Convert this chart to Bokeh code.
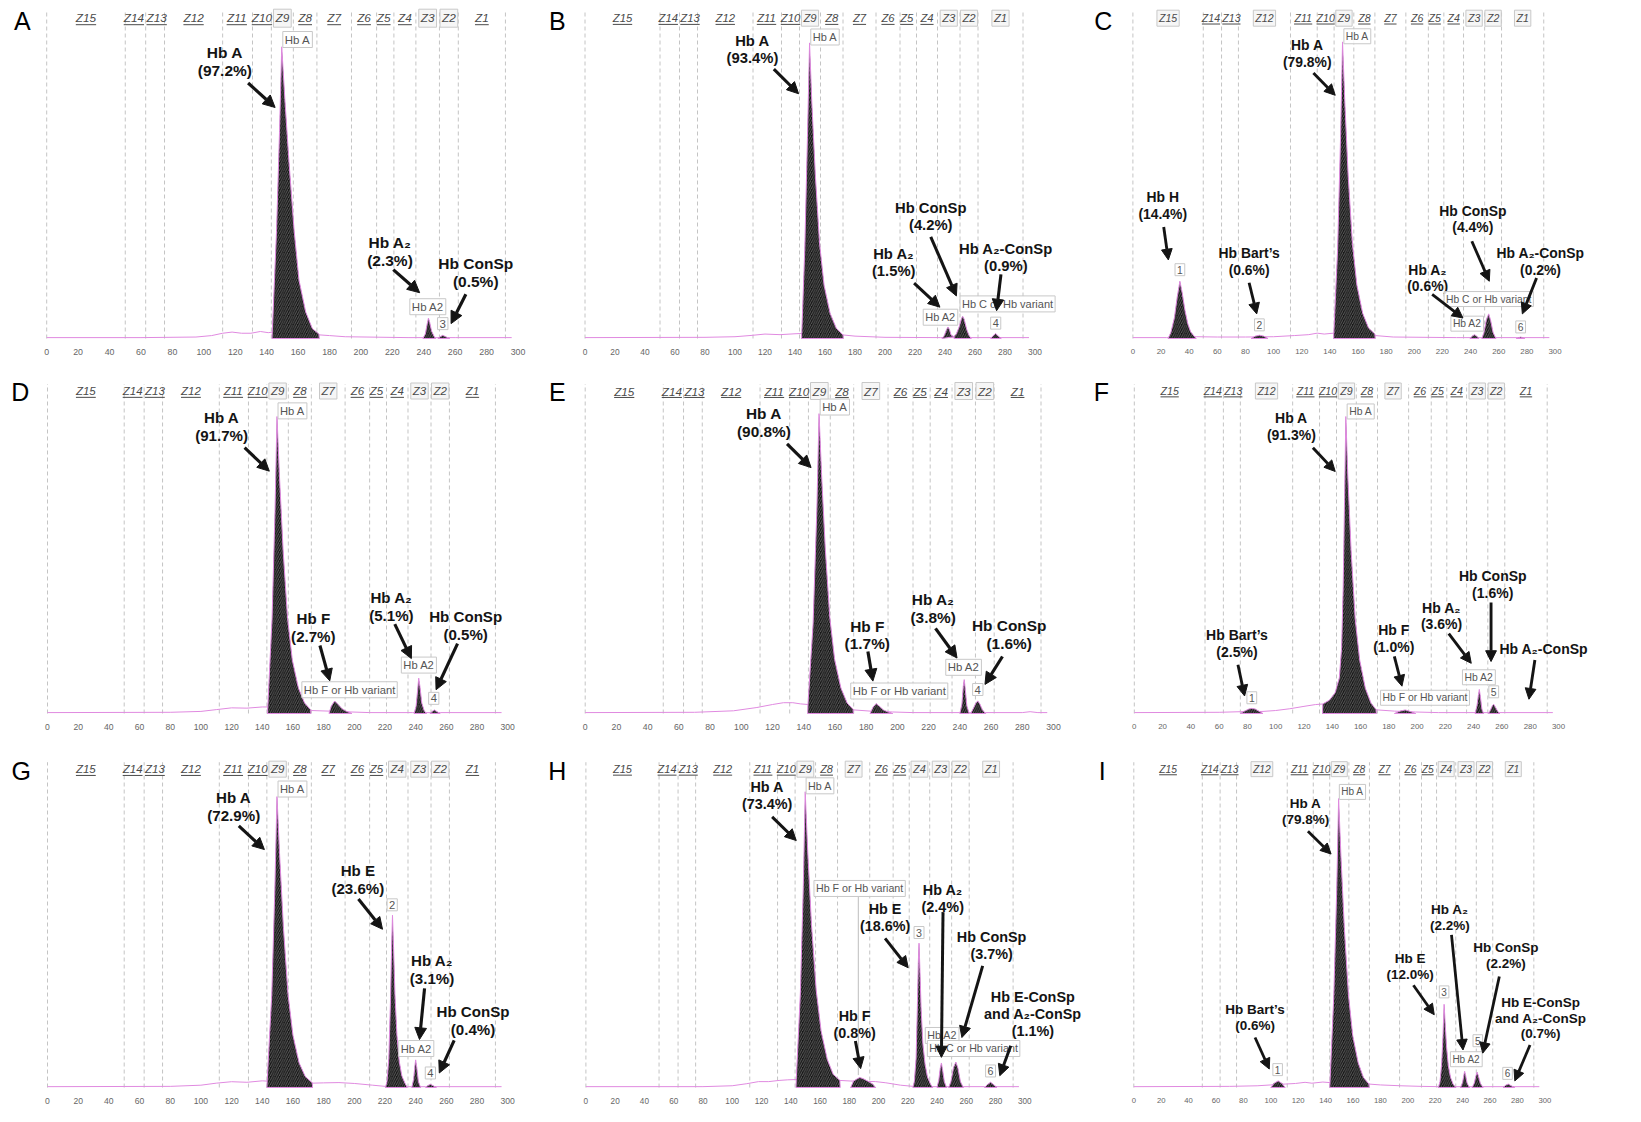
from bokeh.plotting import figure
from bokeh.models import Range1d, Label, Arrow, NormalHead, FixedTicker, ColumnDataSource
from bokeh.layouts import gridplot
from bokeh.embed import file_html
from bokeh.resources import INLINE
from bokeh.core.properties import value

FONT = "Liberation Sans"

# ---------------- shared axis / zone data ----------------
TICKS = list(range(0, 301, 20))
ZONE_NAMES = ["Z15", "Z14", "Z13", "Z12", "Z11", "Z10", "Z9", "Z8", "Z7", "Z6", "Z5", "Z4", "Z3", "Z2", "Z1"]
ZONE_CENTERS = [25, 55.5, 70, 93.5, 121, 137, 150, 164.5, 183, 202, 214.5, 228, 242.5, 256, 277]
ZONE_EDGES = [0, 50, 63, 75, 112, 131, 143, 157, 172, 194, 210, 221, 235, 250, 262, 292]

# ---------------- panel A ----------------
A_TRACE_X = [0, 60, 95, 105, 112, 118, 124, 130, 136, 141, 144, 172, 180, 190, 230, 240, 260, 296]
A_TRACE_Y = [0.3, 0.3, 0.5, 1.0, 1.8, 2.2, 1.8, 1.8, 2.4, 2.0, 2.2, 1.3, 1.0, 0.6, 0.3, 0.3, 0.3, 0.3]
A_PEAKS_X = [[143.4, 143.6, 146.3, 148.2, 149.6, 151.6, 154.3, 157.5, 160.6, 164.9, 169.1, 173.3, 173.5],
             [239.5, 241, 242.2, 243, 243.8, 245, 246.5, 247.5],
             [249, 250.5, 252.1, 254, 256.5]]
A_PEAKS_Y = [[0, 2.2, 37, 71, 100, 82, 60, 37, 20, 9, 3.4, 1.5, 0],
             [0, 1.5, 5, 7, 5.5, 2.5, 0.8, 0],
             [0, 0.6, 1.1, 0.6, 0]]
A_BOXED = ["Z9", "Z3", "Z2"]
A_NOTES = ["Hb A\n(97.2%)", "Hb A₂\n(2.3%)", "Hb ConSp\n(0.5%)"]
A_TAGS = ["Hb A", "Hb A2", "3"]

# ---------------- panel B ----------------
B_TRACE_X = [0, 80, 100, 110, 120, 130, 140, 144.5, 172, 180, 200, 237, 258, 270, 280, 296]
B_TRACE_Y = [0.3, 0.4, 0.6, 1.0, 1.5, 1.3, 1.6, 1.7, 1.2, 0.8, 0.4, 0.3, 0.3, 0.3, 0.3, 0.3]
B_PEAKS_X = [[144.3, 144.5, 146.5, 148.3, 149.7, 151.2, 153.6, 156.4, 159.4, 163.4, 167.5, 172.0, 172.2],
             [238, 239.5, 241, 242, 243, 244, 246],
             [246, 246.2, 247.5, 249.5, 251, 251.8, 252.8, 254.5, 256, 257.5],
             [270.5, 272, 273.8, 275.5, 277.5]]
B_PEAKS_Y = [[0, 1.7, 30, 68, 100, 80, 55, 32, 18, 8.5, 3.5, 1.2, 0],
             [0, 1, 3, 3.9, 3, 1.2, 0.6],
             [0, 0.8, 1.5, 4, 6.8, 7.5, 6.5, 3, 1, 0],
             [0, 0.9, 1.7, 0.8, 0]]
B_BOXED = ["Z9", "Z3", "Z2", "Z1"]
B_NOTES = ["Hb A\n(93.4%)", "Hb ConSp\n(4.2%)", "Hb A₂\n(1.5%)", "Hb A₂-ConSp\n(0.9%)"]
B_TAGS = ["Hb A", "Hb A2", "Hb C or Hb variant", "4"]

# ---------------- panel C ----------------
C_TRACE_X = [0, 24, 45, 60, 80, 100, 115, 125, 131, 136, 142.6, 172, 185, 230, 296]
C_TRACE_Y = [0.3, 0.3, 0.6, 0.5, 0.5, 0.6, 1.0, 1.3, 1.8, 1.5, 1.8, 1.0, 0.5, 0.3, 0.3]
C_PEAKS_X = [[25, 27, 29.5, 31.5, 33.4, 35, 37, 39, 41, 43.5, 45],
             [84, 87, 89.9, 93, 96],
             [142.6, 142.8, 145.5, 147.6, 149.0, 150.6, 153.0, 156.0, 159.2, 163.3, 167.5, 172.0, 172.2],
             [239.5, 241.5, 242.8, 244.3, 246],
             [248, 249.5, 251.3, 252.9, 254.3, 256, 258],
             [272.5, 275.6, 278.5]]
C_PEAKS_Y = [[0, 2, 7, 14, 19.3, 15.5, 9.5, 5, 2.3, 0.8, 0],
             [0, 0.8, 1.1, 0.8, 0],
             [0, 1.8, 30, 68, 100, 80, 55, 32, 18, 8.5, 3.5, 1.5, 0],
             [0, 0.9, 1.3, 0.8, 0],
             [0, 2, 6.5, 8.3, 6, 2, 0],
             [0, 0.5, 0]]
C_BOXED = ["Z15", "Z12", "Z9", "Z3", "Z2", "Z1"]
C_NOTES = ["Hb H\n(14.4%)", "Hb Bart’s\n(0.6%)", "Hb A\n(79.8%)", "Hb ConSp\n(4.4%)",
           "Hb A₂\n(0.6%)", "Hb A₂-ConSp\n(0.2%)"]
C_TAGS = ["1", "2", "Hb A", "Hb A2", "Hb C or Hb variant", "6"]

# ---------------- panel D ----------------
D_TRACE_X = [0, 80, 100, 110, 120, 130, 140, 143.6, 172, 183.5, 198.5, 210, 238, 256, 296]
D_TRACE_Y = [0.3, 0.4, 0.7, 1.3, 1.9, 1.8, 2.2, 2.2, 1.0, 0.8, 0.5, 0.3, 0.3, 0.3, 0.3]
D_PEAKS_X = [[143.4, 143.6, 146.4, 148.3, 149.6, 151.2, 153.6, 156.5, 159.6, 163.6, 167.6, 171.5, 171.7],
             [183.5, 185, 187.2, 189.5, 192, 195, 198.5],
             [239, 240.3, 241.3, 242, 242.8, 244, 245.5, 247],
             [249.5, 251, 252.2, 254, 256]]
D_PEAKS_Y = [[0, 2.2, 32, 68, 100, 80, 55, 32, 18, 8.5, 3.5, 1.3, 0],
             [0, 2.5, 4.2, 3, 1.6, 0.7, 0],
             [0, 2.5, 8, 11.9, 9, 3.5, 1, 0],
             [0, 0.8, 1.2, 0.6, 0]]
D_BOXED = ["Z9", "Z7", "Z3", "Z2"]
D_NOTES = ["Hb A\n(91.7%)", "Hb F\n(2.7%)", "Hb A₂\n(5.1%)", "Hb ConSp\n(0.5%)"]
D_TAGS = ["Hb A", "Hb F or Hb variant", "Hb A2", "4"]

# ---------------- panel E ----------------
E_TRACE_X = [0, 70, 95, 110, 120, 127, 133, 138, 142.7, 172, 182.5, 197, 210, 240, 256.5, 280, 285, 290, 296]
E_TRACE_Y = [0.3, 0.4, 0.9, 2.0, 3.0, 3.6, 3.6, 3.2, 3.0, 1.2, 0.8, 0.5, 0.3, 0.3, 0.3, 0.3, 0.6, 0.3, 0.3]
E_PEAKS_X = [[142.5, 142.7, 146.0, 148.4, 149.8, 151.4, 153.8, 156.7, 159.8, 163.8, 167.8, 171.6, 171.8],
             [182.5, 184.5, 186.4, 188.5, 191, 194, 197],
             [240, 241.3, 242.2, 242.8, 243.5, 244.5, 246],
             [247, 248.5, 250.3, 251.5, 252.8, 254.5, 256.5]]
E_PEAKS_Y = [[0, 3.0, 30, 68, 100, 80, 55, 32, 18, 8.5, 3.5, 1.4, 0],
             [0, 2.2, 3.3, 2.4, 1.2, 0.5, 0],
             [0, 3, 9, 11.3, 8, 2.5, 0],
             [0, 1.5, 3.5, 4.2, 3.2, 1.2, 0]]
E_BOXED = ["Z9", "Z7", "Z3", "Z2"]
E_NOTES = ["Hb A\n(90.8%)", "Hb F\n(1.7%)", "Hb A₂\n(3.8%)", "Hb ConSp\n(1.6%)"]
E_TAGS = ["Hb A", "Hb F or Hb variant", "Hb A2", "4"]

# ---------------- panel F ----------------
F_TRACE_X = [0, 60, 75, 91, 100, 110, 120, 128, 133.3, 172, 184, 199, 215, 241, 258.5, 296]
F_TRACE_Y = [0.3, 0.4, 0.6, 0.7, 1.0, 1.6, 2.4, 3.0, 3.2, 1.2, 0.8, 0.5, 0.3, 0.3, 0.3, 0.3]
F_PEAKS_X = [[75, 78, 81, 83, 85.5, 88, 91],
             [133.1, 133.3, 138, 142, 145, 146.6, 147.7, 148.7, 149.6, 151.0, 153.3, 156.2, 159.4, 163.4, 167.4, 171.0, 171.2],
             [184, 188, 191.6, 195, 199],
             [241, 242.3, 243.3, 244, 244.8, 245.8, 247],
             [250.5, 252, 253.3, 254.2, 255.3, 257, 258.5]]
F_PEAKS_Y = [[0, 0.8, 1.5, 1.7, 1.5, 0.8, 0],
             [0, 3.2, 4.5, 7, 12, 22, 42, 72, 100, 80, 55, 32, 18, 8.5, 3.5, 1.3, 0],
             [0, 0.8, 1.2, 0.7, 0],
             [0, 2.5, 6, 8.1, 5.5, 1.5, 0],
             [0, 1.3, 2.7, 3.1, 2.2, 0.7, 0]]
F_BOXED = ["Z12", "Z9", "Z7", "Z3", "Z2"]
F_NOTES = ["Hb A\n(91.3%)", "Hb Bart’s\n(2.5%)", "Hb F\n(1.0%)", "Hb A₂\n(3.6%)",
           "Hb ConSp\n(1.6%)", "Hb A₂-ConSp"]
F_TAGS = ["1", "Hb A", "Hb F or Hb variant", "Hb A2", "5"]

# ---------------- panel G ----------------
G_TRACE_X = [0, 80, 100, 110, 120, 130, 140, 143.2, 172.6, 180, 190, 200, 212, 220, 234.5, 237.5, 243.2, 246.5, 296]
G_TRACE_Y = [0.3, 0.4, 0.8, 1.5, 2.0, 1.8, 2.3, 2.2, 1.5, 1.6, 1.7, 1.4, 0.8, 0.4, 0.3, 0.3, 0.3, 0.3, 0.3]
G_PEAKS_X = [[143.0, 143.2, 146.2, 148.2, 149.6, 151.3, 153.8, 156.8, 160.0, 164.0, 168.0, 172.6, 172.8],
             [220.3, 221.3, 222.5, 223.6, 224.4, 224.9, 225.6, 226.5, 227.8, 229.3, 231, 233, 234.5],
             [237.5, 238.7, 239.5, 240, 240.7, 241.8, 243.2],
             [246.5, 248, 249.6, 251.5, 253.5]]
G_PEAKS_Y = [[0, 2.2, 32, 68, 100, 80, 55, 32, 18, 8.5, 3.8, 1.6, 0],
             [0, 2, 10, 30, 50, 59.2, 48, 32, 18, 9, 4, 1.5, 0],
             [0, 3, 7.5, 9.5, 7, 2, 0],
             [0, 0.7, 1.1, 0.6, 0]]
G_BOXED = ["Z9", "Z4", "Z3", "Z2"]
G_NOTES = ["Hb A\n(72.9%)", "Hb E\n(23.6%)", "Hb A₂\n(3.1%)", "Hb ConSp\n(0.4%)"]
G_TAGS = ["Hb A", "2", "Hb A2", "4"]

# ---------------- panel H ----------------
H_TRACE_X = [0, 80, 100, 110, 118, 125, 132, 138, 143.8, 173.6, 181, 198, 205, 215, 223.5, 237, 240, 258, 272.5, 281, 296]
H_TRACE_Y = [0.3, 0.3, 0.6, 1.3, 2.0, 2.0, 2.4, 2.6, 2.7, 2.4, 2.2, 2.0, 1.6, 0.8, 0.4, 0.3, 0.3, 0.3, 0.3, 0.3, 0.3]
H_PEAKS_X = [[143.6, 143.8, 146.6, 148.6, 149.9, 151.6, 154.2, 157.4, 160.8, 165.0, 169.0, 173.6, 173.8],
             [181, 183, 185, 187.1, 189.5, 192.5, 196, 198],
             [223.5, 224.5, 225.7, 226.6, 227.2, 227.7, 228.3, 229.1, 230.3, 231.8, 233.5, 235.5, 237],
             [240, 241.2, 242.2, 243, 243.8, 245, 246.5],
             [248, 249.5, 251.3, 252.9, 254.3, 256, 258],
             [272.5, 274.5, 276.6, 278.8, 281]]
H_PEAKS_Y = [[0, 2.7, 32, 68, 100, 80, 55, 33, 19, 9.5, 4.5, 2.4, 0],
             [0, 2.2, 2.8, 3.4, 3.0, 2.2, 1.2, 0],
             [0, 2, 10, 28, 42, 48.8, 40, 27, 15, 8, 3.5, 1.2, 0],
             [0, 2.5, 6.5, 8.3, 6, 2, 0],
             [0, 2, 6.8, 8.6, 6.5, 2, 0],
             [0, 1, 1.8, 0.9, 0]]
H_BOXED = ["Z9", "Z7", "Z4", "Z3", "Z2", "Z1"]
H_NOTES = ["Hb A\n(73.4%)", "Hb F\n(0.8%)", "Hb E\n(18.6%)", "Hb A₂\n(2.4%)",
           "Hb ConSp\n(3.7%)", "Hb E-ConSp\nand A₂-ConSp\n(1.1%)"]
H_TAGS = ["Hb A", "Hb F or Hb variant", "3", "Hb A2", "Hb C or Hb variant", "6"]

# ---------------- panel I ----------------
I_TRACE_X = [0, 70, 90, 100, 110.5, 118, 125, 130, 138, 143.2, 171.6, 180, 195, 210, 222.3, 235, 296]
I_TRACE_Y = [0.3, 0.4, 0.6, 0.9, 1.2, 1.4, 1.8, 1.5, 1.9, 1.7, 1.2, 0.9, 0.6, 0.4, 0.3, 0.3, 0.3]
I_PEAKS_X = [[100, 102.5, 105.4, 108, 110.5],
             [143.0, 143.2, 146.0, 148.1, 149.5, 151.2, 153.7, 156.7, 159.8, 163.8, 167.6, 171.6, 171.8],
             [222.3, 223.5, 224.7, 225.7, 226.5, 227.3, 228.3, 229.6, 231.2, 233, 235],
             [238.5, 240, 241, 241.5, 242.2, 243.3, 245],
             [247, 248.5, 249.8, 250.6, 251.5, 253, 255],
             [269.5, 271.5, 273.3, 275.5, 278]]
I_PEAKS_Y = [[0, 1.5, 2.3, 1.5, 0],
             [0, 1.7, 32, 68, 100, 80, 55, 32, 18, 8.5, 3.5, 1.2, 0],
             [0, 2, 8, 18, 28.8, 22, 14, 7.5, 3.5, 1.2, 0],
             [0, 1.8, 4.5, 5.6, 4.2, 1.5, 0],
             [0, 1.5, 4.2, 5.3, 4, 1.4, 0],
             [0, 0.8, 1.2, 0.6, 0]]
I_BOXED = ["Z12", "Z9", "Z4", "Z3", "Z2", "Z1"]
I_NOTES = ["Hb A\n(79.8%)", "Hb Bart’s\n(0.6%)", "Hb E\n(12.0%)", "Hb A₂\n(2.2%)",
           "Hb ConSp\n(2.2%)", "Hb E-ConSp\nand A₂-ConSp\n(0.7%)"]
I_TAGS = ["1", "Hb A", "3", "Hb A2", "5", "6"]

# ---------------- layout (positions, not data) ----------------
# note placement: (text x, text y, arrow x0, y0, x1, y1)
A_NOTE_POS = [(113.4, 95, 128.2, 87.6, 145.4, 79.2), (218.5, 29.8, 220.6, 23.6, 237.4, 15.7),
              (273.1, 22.5, 266.8, 15.2, 257.4, 5.1)]
A_TAG_POS = [(159.7, 102.5), (242.6, 10.9), (252.1, 5.1)]
B_NOTE_POS = [(111.6, 97.8, 125.9, 91.1, 142.4, 82.8), (230.5, 41.4, 230.5, 34.4, 247.6, 14.4),
              (205.8, 25.6, 219.4, 18.7, 236.6, 10.6), (280.6, 27.3, 277.3, 21.7, 274.4, 9.4)]
B_TAG_POS = [(160.0, 102), (237, 7.2), (281.7, 11.7), (273.8, 5.2)]
C_NOTE_POS = [(21.2, 44.8, 21.9, 37.6, 25.2, 26.5), (82.6, 26, 82.6, 18.8, 88, 8.3),
              (123.9, 96.1, 128.3, 89.5, 143.8, 82), (241.6, 40.3, 240.9, 32.8, 253.3, 19.3),
              (209.5, 20.4, 212.7, 14.9, 234.6, 6.9), (289.7, 26, 286.9, 20.4, 276.8, 8.3)]
C_TAG_POS = [(33.4, 23.2), (89.9, 4.6), (159.5, 101.9), (237.6, 5.0), (252.9, 13.3), (275.6, 3.9)]
D_NOTE_POS = [(113.5, 96.7, 128.5, 89.5, 144.6, 81.6), (173.3, 28.9, 177.6, 22.9, 184, 11),
              (224.2, 36.1, 226.4, 30.1, 237.2, 18.5), (272.6, 29.6, 267.3, 23.5, 253.3, 8)]
D_TAG_POS = [(159.7, 101.9), (196.9, 8), (242.1, 16.3), (251.8, 5.1)]
E_NOTE_POS = [(114.5, 97, 129.3, 89.9, 144.7, 82), (180.7, 26.2, 181.1, 20.7, 184.3, 10.8),
              (222.9, 34.9, 224.4, 28.4, 238.2, 18.5), (271.6, 26.3, 267.3, 19, 256.1, 9.7)]
E_TAG_POS = [(159.9, 102.2), (201.2, 7.5), (242.4, 15.4), (251.5, 8.0)]
F_NOTE_POS = [(111.1, 96.7, 126.3, 89.5, 142.1, 81.5), (72.6, 23.6, 73.3, 16.4, 78, 5.9),
              (183.5, 25.2, 183.9, 19.2, 189.3, 9.2), (217.3, 32.8, 222.4, 26.9, 238.3, 16.9),
              (253.5, 43.5, 252.3, 37.4, 252.3, 17.5), (289.6, 21.7, 283.3, 18, 279.1, 4.8)]
F_TAG_POS = [(83.1, 5.3), (160.1, 101.7), (205.6, 5.3), (243.7, 12.2), (254.2, 7.3)]
G_NOTE_POS = [(121.4, 96.5, 124.7, 89.9, 141.4, 81.8), (202.3, 71.6, 202.7, 64.8, 218.4, 54.4),
              (250.7, 40.7, 245.8, 34.1, 242.5, 16.5), (277.4, 23.1, 265.1, 16.2, 255.4, 5)]
G_TAG_POS = [(159.7, 102.6), (224.7, 62.8), (240.4, 13.4), (249.6, 5)]
H_NOTE_POS = [(123.9, 98.8, 127.3, 91.5, 143.8, 83.5), (183.7, 21.4, 184.2, 15.7, 187.8, 6.4),
              (204.5, 57.5, 204.5, 50.4, 220.3, 40.5), (243.9, 64, 244.1, 59.3, 243, 10.2),
              (277.3, 48.1, 271.2, 41.1, 257, 16.9), (305.5, 24.8, 290.4, 14.1, 282.9, 4)]
H_TAG_POS = [(160, 102), (187.1, 67.3), (227.7, 52.4), (243.5, 17.6), (265, 13.2), (276.6, 5.6)]
I_NOTE_POS = [(125.4, 95.5, 127.1, 88.7, 144, 80.8), (88.5, 24.3, 88.5, 17.3, 98.9, 6.4),
              (201.7, 42, 204.1, 35.4, 219.3, 25.2), (230.7, 58.9, 231.9, 52.8, 240.3, 13),
              (271.6, 45.8, 266.8, 38.4, 254.7, 11.9), (297, 24, 289.2, 14.7, 278.1, 2.3)]
I_TAG_POS = [(105, 6.2), (159.6, 102.3), (226.5, 33.1), (242.7, 9.8), (251.1, 16.2), (272.8, 4.9)]

# rows: (figure height, baseline px from top, zone-label px from top, letter px from top)
ROWS = [(362, 338.0, 17.7, 20.2), (372, 350.9, 28.5, 29.4), (372, 356.5, 35.0, 37.0)]
W = 541

PANELS = [
    ("A", 0, 46.2, 1.571, 2.917, 21.8, A_TRACE_X, A_TRACE_Y, A_PEAKS_X, A_PEAKS_Y, A_BOXED, A_NOTES, A_NOTE_POS, A_TAGS, A_TAG_POS),
    ("B", 0, 43.5, 1.500, 2.956, 15.8, B_TRACE_X, B_TRACE_Y, B_PEAKS_X, B_PEAKS_Y, B_BOXED, B_NOTES, B_NOTE_POS, B_TAGS, B_TAG_POS),
    ("C", 0, 50.4, 1.407, 2.966, 20.8, C_TRACE_X, C_TRACE_Y, C_PEAKS_X, C_PEAKS_Y, C_BOXED, C_NOTES, C_NOTE_POS, C_TAGS, C_TAG_POS),
    ("D", 1, 47.0, 1.534, 2.969, 19.8, D_TRACE_X, D_TRACE_Y, D_PEAKS_X, D_PEAKS_Y, D_BOXED, D_NOTES, D_NOTE_POS, D_TAGS, D_TAG_POS),
    ("E", 1, 43.7, 1.561, 2.998, 15.8, E_TRACE_X, E_TRACE_Y, E_PEAKS_X, E_PEAKS_Y, E_BOXED, E_NOTES, E_NOTE_POS, E_TAGS, E_TAG_POS),
    ("F", 1, 51.8, 1.414, 2.969, 18.8, F_TRACE_X, F_TRACE_Y, F_PEAKS_X, F_PEAKS_Y, F_BOXED, F_NOTES, F_NOTE_POS, F_TAGS, F_TAG_POS),
    ("G", 2, 47.0, 1.534, 2.938, 20.8, G_TRACE_X, G_TRACE_Y, G_PEAKS_X, G_PEAKS_Y, G_BOXED, G_NOTES, G_NOTE_POS, G_TAGS, G_TAG_POS),
    ("H", 2, 44.4, 1.463, 2.987, 15.8, H_TRACE_X, H_TRACE_Y, H_PEAKS_X, H_PEAKS_Y, H_BOXED, H_NOTES, H_NOTE_POS, H_TAGS, H_TAG_POS),
    ("I", 2, 51.3, 1.370, 2.918, 19.8, I_TRACE_X, I_TRACE_Y, I_PEAKS_X, I_PEAKS_Y, I_BOXED, I_NOTES, I_NOTE_POS, I_TAGS, I_TAG_POS),
]

PINK = "#e08ae0"
INK = "#141414"


def build(cfg):
    (letter, row, p0w, ppx, ppy, letter_x, tx, ty, pxs, pys, boxed, notes, note_pos, tags, tag_pos) = cfg
    H, base_rel, zone_rel, letter_rel = ROWS[row]
    frame_h = base_rel + 3
    xs = -p0w / ppx
    xe = xs + W / ppx
    ys = -3 / ppy
    ye = base_rel / ppy
    k = ppx / 1.571  # text scale relative to panel A

    p = figure(width=W, height=H, x_range=Range1d(xs, xe), y_range=Range1d(ys, ye),
               output_backend="svg", toolbar_location=None, y_axis_location=None,
               min_border_left=0, min_border_right=0, min_border_top=0,
               min_border_bottom=int(round(H - frame_h)))
    p.outline_line_color = None
    p.xgrid.visible = False
    p.ygrid.visible = False
    p.background_fill_color = "white"
    p.border_fill_color = "white"

    ax = p.xaxis[0]
    ax.ticker = FixedTicker(ticks=TICKS)
    ax.axis_line_color = None
    ax.major_tick_line_color = None
    ax.minor_tick_line_color = None
    ax.major_label_text_font = FONT
    ax.major_label_text_font_size = "%.1fpx" % (8.8 * k)
    ax.major_label_text_color = "#666666"
    ax.major_label_standoff = 1

    # zone boundaries
    top_y = (base_rel - (zone_rel - 7)) / ppy
    p.segment(x0=ZONE_EDGES, y0=[0] * len(ZONE_EDGES), x1=ZONE_EDGES, y1=[top_y] * len(ZONE_EDGES),
              line_color="#c4c4c4", line_width=1, line_dash="4 3")

    # trace and filled peaks
    p.line(tx, ty, line_color=PINK, line_width=1)
    for xx, yy in zip(pxs, pys):
        p.patch(xx, yy, fill_color="#161616", line_color=PINK, line_width=1,
                hatch_pattern="/", hatch_color="#7a7a7a", hatch_scale=4.5, hatch_weight=0.7)

    # zone labels
    zy = (base_rel - zone_rel) / ppy
    fz = 11.8 * k
    ux = []
    for name, c in zip(ZONE_NAMES, ZONE_CENTERS):
        is_box = name in boxed
        lab = Label(x=c, y=zy, text=name, text_font=FONT, text_font_style="italic",
                    text_font_size="%.1fpx" % fz, text_color="#4a4a4a",
                    text_align="center", text_baseline="middle")
        if is_box:
            lab.border_line_color = "#c8c8c8"
            lab.background_fill_color = "#f6f6f6"
            lab.padding = 2
        p.add_layout(lab)
        if not is_box:
            wpx = fz * (0.61 + 0.556 * (len(name) - 1))
            half = wpx / 2 / ppx
            ux.append((c - half, c + half))
    uy = (base_rel - zone_rel - 6.5 * k) / ppy
    if ux:
        p.segment(x0=[a for a, b in ux], y0=[uy] * len(ux), x1=[b for a, b in ux], y1=[uy] * len(ux),
                  line_color="#4a4a4a", line_width=1)

    # panel letter
    p.add_layout(Label(x=xs + letter_x / ppx, y=(base_rel - letter_rel) / ppy, text=letter,
                       text_font=FONT, text_font_size="25px", text_color="black",
                       text_align="center", text_baseline="middle"))

    # small boxed peak tags
    for t, (x, y) in zip(tags, tag_pos):
        p.add_layout(Label(x=x, y=y, text=t, text_font=FONT, text_font_size="%.1fpx" % (11.5 * k),
                           text_color="#555555", text_align="center", text_baseline="middle",
                           border_line_color="#c8c8c8", background_fill_color="white",
                           background_fill_alpha=0.85, padding=2))

    # connector line in H
    if letter == "H":
        p.segment(x0=[186.2], y0=[4.2], x1=[186.2], y1=[64.5], line_color="#bdbdbd", line_width=1)

    # bold annotations with arrows
    src = ColumnDataSource(dict(x=[q[0] for q in note_pos], y=[q[1] for q in note_pos], t=notes))
    p.text(x="x", y="y", text="t", source=src, text_font=value(FONT), text_font_style="bold",
           text_font_size="%.1fpx" % (15.5 * k), text_align="center", text_baseline="middle",
           text_line_height=1.05, text_color=INK)
    for q in note_pos:
        p.add_layout(Arrow(end=NormalHead(size=12 * k, fill_color=INK, line_color=INK, line_width=1),
                           x_start=q[2], y_start=q[3], x_end=q[4], y_end=q[5],
                           line_color=INK, line_width=3.2 * k))
    return p


figs = [build(c) for c in PANELS]
grid = gridplot([figs[0:3], figs[3:6], figs[6:9]], toolbar_location=None)
open("out.html", "w").write(file_html(grid, INLINE))
